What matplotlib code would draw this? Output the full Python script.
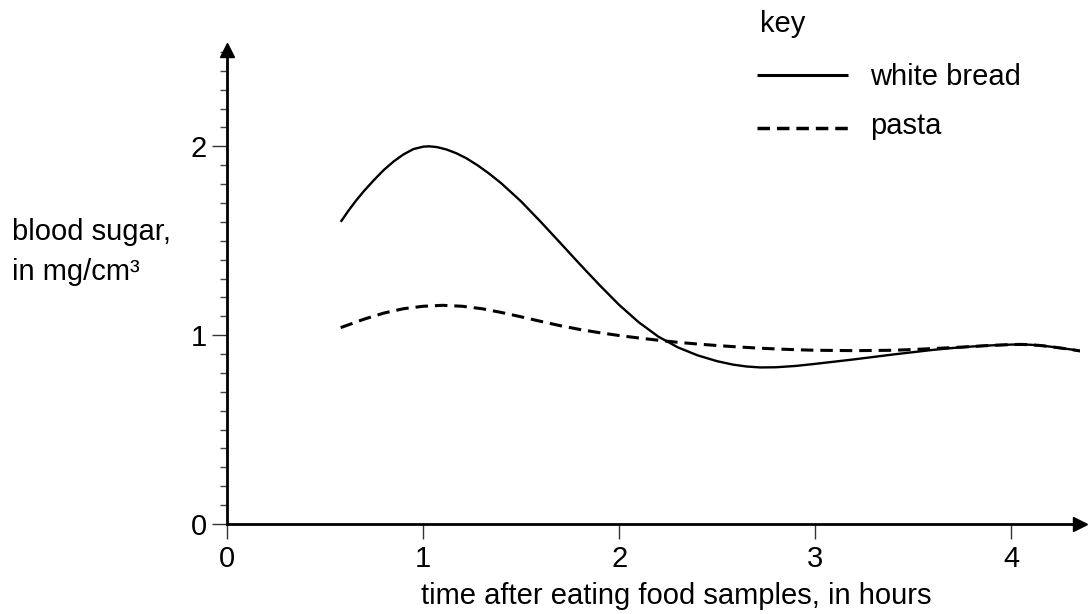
import matplotlib
matplotlib.use('Agg')
import matplotlib.pyplot as plt
from matplotlib.lines import Line2D
from matplotlib.ticker import MultipleLocator, FixedLocator

plt.rcParams['font.family'] = ['Liberation Sans', 'DejaVu Sans']
plt.rcParams['lines.scale_dashes'] = False

# ---- data ----
bread_t = [0.58, 0.62, 0.66, 0.70, 0.75, 0.80, 0.85, 0.90, 0.95, 1.00, 1.03, 1.07, 1.12,
           1.17, 1.22, 1.28, 1.34, 1.40, 1.50, 1.60, 1.70, 1.80, 1.90, 2.00, 2.10, 2.20,
           2.30, 2.40, 2.50, 2.58, 2.65, 2.72, 2.80, 2.90, 3.00, 3.10, 3.20, 3.30, 3.40,
           3.50, 3.60, 3.70, 3.80, 3.90, 4.00, 4.05, 4.10, 4.15, 4.20, 4.25, 4.30, 4.37]
bread_y = [1.600, 1.660, 1.715, 1.765, 1.822, 1.875, 1.920, 1.957, 1.985, 1.998, 2.000, 1.996, 1.983,
           1.963, 1.937, 1.898, 1.853, 1.803, 1.708, 1.600, 1.488, 1.375, 1.265, 1.160, 1.068, 0.992,
           0.935, 0.893, 0.862, 0.844, 0.834, 0.829, 0.830, 0.837, 0.848, 0.860, 0.872, 0.885, 0.898,
           0.910, 0.922, 0.932, 0.940, 0.946, 0.950, 0.951, 0.949, 0.945, 0.939, 0.932, 0.925, 0.913]

pasta_t = [0.58, 0.70, 0.80, 0.90, 1.00, 1.10, 1.20, 1.30, 1.40, 1.50, 1.60, 1.70, 1.80, 1.90,
           2.00, 2.10, 2.20, 2.30, 2.40, 2.50, 2.60, 2.70, 2.80, 2.90, 3.00, 3.20, 3.40, 3.50,
           3.60, 3.70, 3.80, 3.90, 4.00, 4.05, 4.10, 4.15, 4.20, 4.25, 4.30, 4.37]
pasta_y = [1.040, 1.085, 1.117, 1.140, 1.153, 1.158, 1.153, 1.140, 1.120, 1.097, 1.073, 1.050, 1.030, 1.013,
           0.998, 0.985, 0.973, 0.962, 0.953, 0.945, 0.938, 0.932, 0.927, 0.923, 0.920, 0.918, 0.920, 0.924,
           0.929, 0.934, 0.940, 0.946, 0.950, 0.951, 0.949, 0.945, 0.939, 0.932, 0.925, 0.913]

x_ticks = [0, 1, 2, 3, 4]
y_ticks = [0, 1, 2]
x_label = "time after eating food samples, in hours"
y_label_lines = ["blood sugar,", "in mg/cm\u00b3"]
key_title = "key"
series_names = ["white bread", "pasta"]

W, H = 1090, 614
FS = 21
fig = plt.figure(figsize=(W / 100, H / 100), dpi=100)
ax = fig.add_axes([227 / W, 90 / H, (1080 - 227) / W, (524 - 50) / H])
ax.set_xlim(0, 4.35)
ax.set_ylim(0, 2.51)

solid_lw = 1.7
dash_lw = 2.2
dash_style = (0, (9.0, 5.0))

ax.plot(bread_t, bread_y, color='black', lw=solid_lw, solid_capstyle='butt',
        solid_joinstyle='round')
ax.plot(pasta_t, pasta_y, color='black', lw=dash_lw, linestyle=dash_style, dash_capstyle='butt')

for s in ['top', 'right']:
    ax.spines[s].set_visible(False)
for s in ['left', 'bottom']:
    ax.spines[s].set_linewidth(2.0)

ax.xaxis.set_major_locator(FixedLocator(x_ticks))
ax.yaxis.set_major_locator(FixedLocator(y_ticks))
ax.yaxis.set_minor_locator(MultipleLocator(0.1))
ax.set_xticklabels([str(v) for v in x_ticks])
ax.set_yticklabels([str(v) for v in y_ticks])
ax.tick_params(axis='both', which='major', direction='out', length=10.8, width=1.0,
               labelsize=FS, color='#333333')
ax.tick_params(axis='y', which='minor', direction='out', length=5, width=1.0, color='#444444')
ax.tick_params(axis='x', which='major', pad=4)
ax.tick_params(axis='y', which='major', pad=3.5)

# arrow heads
ax.plot(1, 0, marker='>', ms=10, color='black', transform=ax.transAxes, clip_on=False)
ax.plot(0, 1, marker='^', ms=10, color='black', transform=ax.transAxes, clip_on=False)

def fx(px):
    return px / W

def fy(py):
    return 1 - py / H

# axis labels
fig.text(fx(12), fy(240), y_label_lines[0], fontsize=FS, va='baseline', ha='left')
fig.text(fx(12), fy(280), y_label_lines[1], fontsize=FS, va='baseline', ha='left')
fig.text(fx(676), fy(604), x_label, fontsize=FS, va='baseline', ha='center')

# key
fig.text(fx(760), fy(32), key_title, fontsize=FS, va='baseline', ha='left')
fig.add_artist(Line2D([fx(757), fx(848)], [fy(75), fy(75)], transform=fig.transFigure,
                      color='black', lw=solid_lw + 0.5, solid_capstyle='butt'))
fig.add_artist(Line2D([fx(757), fx(848)], [fy(128), fy(128)], transform=fig.transFigure,
                      color='black', lw=dash_lw + 0.3, linestyle=dash_style, dash_capstyle='butt'))
fig.text(fx(870), fy(85), series_names[0], fontsize=FS, va='baseline', ha='left')
fig.text(fx(870), fy(134), series_names[1], fontsize=FS, va='baseline', ha='left')

fig.savefig('out.png', dpi=100)
